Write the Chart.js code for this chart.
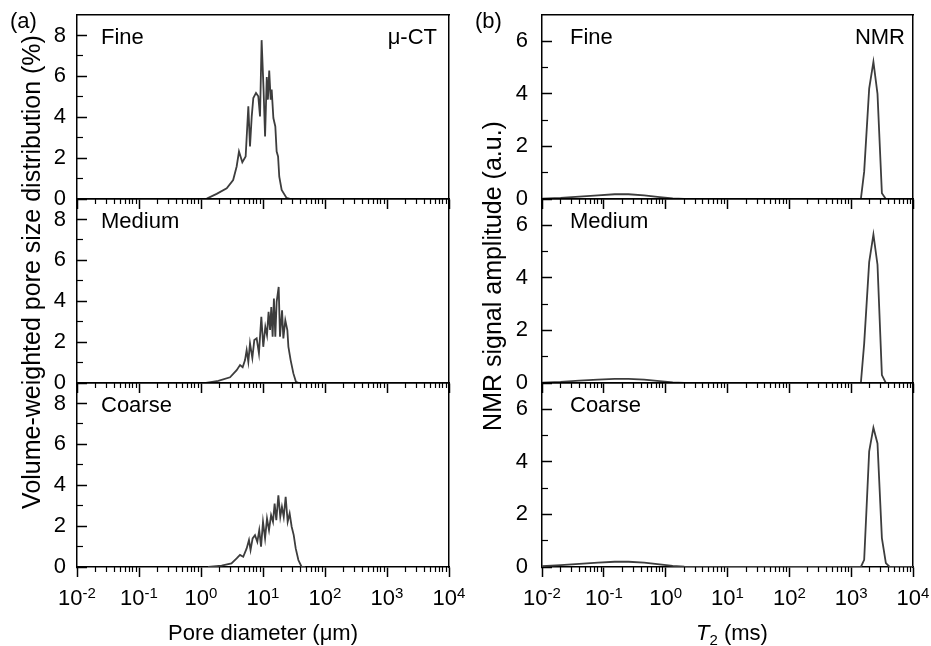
<!DOCTYPE html>
<html>
<head>
<meta charset="utf-8">
<script src="https://cdn.jsdelivr.net/npm/chart.js@4.4.1/dist/chart.umd.min.js"></script>
<style>
html, body { margin: 0; padding: 0; background: #fff; }
#wrap { position: relative; width: 931px; height: 646px; overflow: hidden; }
#wrap canvas { position: absolute; left: 0; top: 0; }
</style>
</head>
<body>
<div id="wrap"></div>
<script>
// µ-CT, volume-weighted pore size distribution: pore diameter (µm) / volume (%)
const ctFineD = [1.0, 1.24, 1.79, 2.6, 3.3, 3.76, 4.1, 4.64, 5.25, 5.8, 6.17, 6.58, 6.98, 7.71, 8.4, 8.95, 9.5, 10.2, 10.8, 11.5, 12.0, 12.6, 13.3, 13.8, 14.7, 15.8, 16.6, 17.5, 18.3, 20, 24, 28]
const ctFineV = [0, 0.02, 0.25, 0.52, 0.93, 1.59, 2.32, 1.8, 2.08, 4.53, 2.57, 4.04, 4.94, 5.19, 5.02, 4.04, 7.77, 5.4, 3.06, 5.97, 4.86, 6.28, 4.86, 5.35, 3.96, 3.55, 2.32, 2.08, 1.09, 0.44, 0.05, 0]

const ctMediumD = [1.2, 1.9, 2.94, 3.76, 4.26, 4.7, 5.13, 5.45, 5.8, 6.17, 6.73, 7.24, 7.9, 8.6, 9.4, 10.1, 10.9, 11.6, 12.3, 13.0, 13.6, 14.3, 15.0, 15.8, 16.6, 17.9, 18.8, 20.3, 21.3, 22.9, 24.7, 25.7, 27.9, 30.9, 34, 38]
const ctMediumV = [0, 0.1, 0.28, 0.63, 0.88, 0.77, 1.12, 1.61, 1.04, 1.94, 1.22, 2.1, 2.18, 1.45, 3.24, 1.77, 2.75, 2.34, 3.48, 2.59, 3.72, 2.26, 4.13, 2.26, 3.97, 4.7, 2.26, 3.56, 2.18, 3.07, 2.59, 1.77, 1.12, 0.47, 0.06, 0]

const ctCoarseD = [1.3, 2.15, 3.1, 3.76, 4.26, 4.8, 5.45, 5.94, 6.3, 6.8, 7.43, 8.1, 8.7, 9.3, 10, 10.8, 11.6, 12.5, 13.5, 14.5, 15.4, 16.4, 17.7, 19.0, 20.2, 21.6, 23.2, 25, 26.9, 29, 31.3, 33.7, 37.2, 42, 48]
const ctCoarseV = [0, 0.07, 0.18, 0.42, 0.59, 0.5, 0.91, 1.32, 0.83, 1.4, 1.56, 1.23, 1.8, 0.99, 2.21, 1.4, 2.37, 1.8, 2.54, 2.21, 3.1, 2.29, 3.51, 2.45, 2.94, 2.45, 3.43, 2.21, 2.62, 1.97, 1.56, 0.91, 0.34, 0, 0]

// NMR T2 distributions: T2 (ms) / signal amplitude (a.u.)
const nmrT2 = [0.01, 0.02, 0.04, 0.08, 0.15, 0.25, 0.45, 0.8, 1.3, 2, 100, 1230, 1435, 1623, 1955, 2290, 2666, 3140, 3640, 4200, 10000]
const nmrFine = [0.01, 0.04, 0.09, 0.14, 0.18, 0.18, 0.14, 0.07, 0.02, 0, 0, 0, 0, 1.04, 4.2, 5.22, 4.0, 0.22, 0, 0, 0]
const nmrMedium = [0.01, 0.04, 0.09, 0.13, 0.16, 0.16, 0.13, 0.07, 0.02, 0, 0, 0, 0, 1.5, 4.6, 5.65, 4.5, 0.3, 0, 0, 0]
const nmrCoarse = [0.03, 0.07, 0.12, 0.17, 0.2, 0.2, 0.17, 0.1, 0.04, 0.01, 0, 0, 0, 0.27, 4.4, 5.3, 4.7, 1.1, 0.15, 0, 0]

// axes
const xTickValues = [0.01, 0.1, 1, 10, 100, 1000, 10000]
const xTickExps = ['-2', '-1', '0', '1', '2', '3', '4']
const ctYTicks = [0, 2, 4, 6, 8]
const ctYMinor = [1, 3, 5, 7]
const nmrYTicks = [0, 2, 4, 6]
const nmrYMinor = [1, 3, 5]
const sampleNames = ['Fine', 'Medium', 'Coarse']

const FONT = '"Liberation Sans", Arial, sans-serif'
const f = (size, style) => (style ? style + ' ' : '') + size + 'px ' + FONT
const lineColor = '#3d3d3d'

const rowTops = [15, 199, 383]
const rowHeight = 184
const yAxisWidth = 40

const xMinorTicks = []
for (let i = 0; i < xTickValues.length - 1; i++) {
    for (let m = 2; m <= 9; m++) xMinorTicks.push(m * xTickValues[i])
}

function drawRich(ctx, parts, x, y, align, angle) {
    ctx.save()
    ctx.translate(x, y)
    if (angle) ctx.rotate(angle)
    let total = 0
    for (const p of parts) {
        ctx.font = p.font
        total += ctx.measureText(p.text).width
    }
    let cx = align === 'center' ? -total / 2 : align === 'right' ? -total : 0
    ctx.textAlign = 'left'
    ctx.textBaseline = 'alphabetic'
    ctx.fillStyle = '#000'
    for (const p of parts) {
        ctx.font = p.font
        ctx.fillText(p.text, cx, p.dy || 0)
        cx += ctx.measureText(p.text).width
    }
    ctx.restore()
}

const panelText = {
    id: 'panelText',
    afterDraw(chart, args, opts) {
        for (const item of opts.items || []) {
            drawRich(chart.ctx, item.parts, item.x, item.y, item.align, item.angle)
        }
    }
}

const decadeLabels = {
    id: 'decadeLabels',
    afterDraw(chart, args, opts) {
        if (!opts.show) return
        const scale = chart.scales.x
        const y = chart.chartArea.bottom + 38
        xTickValues.forEach((v, i) => {
            const px = scale.getPixelForValue(v)
            drawRich(chart.ctx, [
                { text: '10', font: f(22) },
                { text: xTickExps[i], font: f(15), dy: -7 }
            ], px, y, 'center')
        })
    }
}

const tickList = (values) => (scale) => { scale.ticks = values.map(v => ({ value: v })) }
// fixed box size, and no label overhang pushed into the layout
const fixSize = (w, h) => (s) => {
    if (w !== null) s.width = w
    if (h !== null) s.height = h
    s.paddingTop = 0
    s.paddingBottom = 0
    s.paddingLeft = 0
    s.paddingRight = 0
}

function makePanel(col, row, xs, ys) {
    const isCT = col.name === 'ct'
    const yMax = isCT ? 9 : 7
    const top = rowTops[row]
    const canvas = document.createElement('canvas')
    canvas.width = 931
    canvas.height = 646
    document.getElementById('wrap').appendChild(canvas)

    const items = [
        { parts: [{ text: sampleNames[row], font: f(22) }], x: col.left + col.nameInset, y: top + 29, align: 'left' }
    ]
    if (row === 0) {
        items.push({ parts: [{ text: col.tag, font: f(22) }], x: col.right - col.tagInset, y: top + 29, align: 'right' })
        items.push({ parts: [{ text: col.letter, font: f(22) }], x: col.letterX, y: 28, align: 'left' })
    }
    if (row === 1) {
        items.push({ parts: [{ text: col.yTitle, font: f(25) }], x: col.yTitleX, y: col.yTitleY, align: 'center', angle: -Math.PI / 2 })
    }
    if (row === 2) {
        items.push({ parts: col.xTitle, x: col.xTitleX, y: 640, align: 'center' })
    }

    const borderOpts = { display: true, color: '#000', width: 1.5 }
    return new Chart(canvas, {
        type: 'line',
        data: {
            datasets: [{
                data: xs.map((x, i) => ({ x: x, y: ys[i] })),
                borderColor: lineColor,
                borderWidth: 1.8,
                pointRadius: 0,
                tension: 0,
                fill: false,
                xAxisID: 'x',
                yAxisID: 'y'
            }]
        },
        options: {
            responsive: false,
            animation: false,
            events: [],
            layout: {
                autoPadding: false,
                padding: { left: col.left - yAxisWidth, right: 931 - col.right, top: top, bottom: 646 - top - rowHeight }
            },
            scales: {
                x: {
                    type: 'logarithmic', axis: 'x', position: 'bottom', min: 0.01, max: 10000,
                    afterBuildTicks: tickList(xTickValues),
                    afterFit: fixSize(null, 0),
                    ticks: { display: false, autoSkip: false },
                    grid: { drawOnChartArea: false, drawTicks: true, tickLength: 10, tickWidth: 1.5, tickColor: '#000' },
                    border: borderOpts
                },
                xMinor: {
                    type: 'logarithmic', axis: 'x', position: { y: 0 }, min: 0.01, max: 10000,
                    afterBuildTicks: tickList(xMinorTicks),
                    afterFit: fixSize(null, 0),
                    ticks: { display: false, autoSkip: false },
                    grid: { drawOnChartArea: false, drawTicks: true, tickLength: 5, tickWidth: 1.2, tickColor: '#000' },
                    border: { display: false }
                },
                xTop: {
                    type: 'logarithmic', axis: 'x', position: 'top', min: 0.01, max: 10000,
                    afterFit: fixSize(null, 0),
                    ticks: { display: false },
                    grid: { display: false },
                    border: borderOpts
                },
                y: {
                    type: 'linear', axis: 'y', position: 'left', min: 0, max: yMax,
                    afterBuildTicks: tickList(isCT ? ctYTicks : nmrYTicks),
                    afterFit: fixSize(yAxisWidth, null),
                    ticks: { font: { family: FONT, size: 22 }, color: '#000', padding: col.labelGap + 10, autoSkip: false },
                    grid: { drawOnChartArea: false, drawTicks: true, tickLength: -10, tickWidth: 1.5, tickColor: '#000' },
                    border: borderOpts
                },
                yMinor: {
                    type: 'linear', axis: 'y', position: { x: 0.01 }, min: 0, max: yMax,
                    afterBuildTicks: tickList(isCT ? ctYMinor : nmrYMinor),
                    afterFit: fixSize(0, null),
                    ticks: { display: false },
                    grid: { drawOnChartArea: false, drawTicks: true, tickLength: -6, tickWidth: 1.2, tickColor: '#000' },
                    border: { display: false }
                },
                yRight: {
                    type: 'linear', axis: 'y', position: 'right', min: 0, max: yMax,
                    afterFit: fixSize(0, null),
                    ticks: { display: false },
                    grid: { display: false },
                    border: borderOpts
                }
            },
            plugins: {
                legend: { display: false },
                tooltip: { enabled: false },
                panelText: { items: items },
                decadeLabels: { show: row === 2 }
            }
        },
        plugins: [panelText, decadeLabels]
    })
}

const ctCol = {
    name: 'ct', left: 77, right: 449, labelGap: 11, nameInset: 24, tag: 'μ-CT', tagInset: 12,
    letter: '(a)', letterX: 10,
    yTitle: 'Volume-weighted pore size distribution (%)', yTitleX: 40, yTitleY: 272,
    xTitle: [{ text: 'Pore diameter (μm)', font: f(22) }], xTitleX: 263
}
const nmrCol = {
    name: 'nmr', left: 542, right: 913, labelGap: 14, nameInset: 28, tag: 'NMR', tagInset: 8,
    letter: '(b)', letterX: 475,
    yTitle: 'NMR signal amplitude (a.u.)', yTitleX: 501, yTitleY: 276,
    xTitle: [
        { text: 'T', font: f(22, 'italic') },
        { text: '2', font: f(15), dy: 5 },
        { text: ' (ms)', font: f(22) }
    ], xTitleX: 732
}

makePanel(ctCol, 0, ctFineD, ctFineV)
makePanel(ctCol, 1, ctMediumD, ctMediumV)
makePanel(ctCol, 2, ctCoarseD, ctCoarseV)
makePanel(nmrCol, 0, nmrT2, nmrFine)
makePanel(nmrCol, 1, nmrT2, nmrMedium)
makePanel(nmrCol, 2, nmrT2, nmrCoarse)
</script>
</body>
</html>
